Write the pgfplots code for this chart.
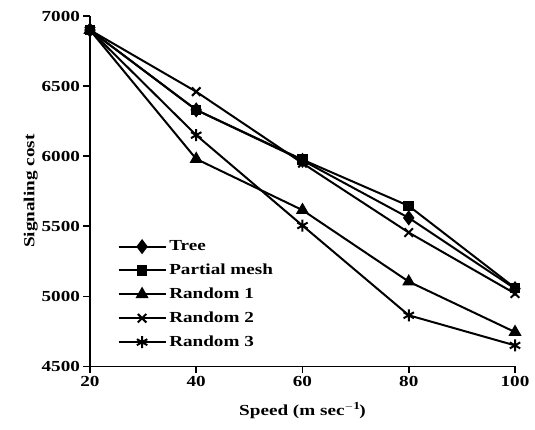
\documentclass[border=0pt]{standalone}
\usepackage{pgfplots}
\pgfplotsset{compat=1.18}
\usepackage{fontspec}
\setmainfont{Liberation Serif}[FakeStretch=1.25]
\begin{document}
\begin{tikzpicture}
\begin{axis}[
  scale only axis,
  width=319pt, height=263pt,
  xmin=20, xmax=100, ymin=4500, ymax=7000,
  axis lines=left,
  axis line style={line width=1.4pt, -},
  xtick={20,40,60,80,100},
  ytick={4500,5000,5500,6000,6500,7000},
  tick style={line width=1.2pt, black},
  major tick length=5pt,
  tick align=outside,
  /pgf/number format/assume math mode=true,
  /pgf/number format/1000 sep={},
  ticklabel style={font=\bfseries\fontsize{11.5}{12}\selectfont},
  xticklabel style={yshift=1pt},
  yticklabel style={xshift=1pt},
  xlabel={\bfseries Speed (m sec$^{\mathbf{-1}}$)},
  ylabel={\bfseries Signaling cost},
  label style={font=\bfseries\fontsize{11.5}{12}\selectfont},
  ylabel style={yshift=-4pt},
  xlabel style={yshift=-5pt},
  legend style={draw=none, fill=none, at={(0.055,0.375)}, anchor=north west,
    font=\bfseries\fontsize{11.5}{12}\selectfont, row sep=4.5pt,
    /tikz/every even column/.append style={column sep=2pt}},
  legend cell align=left,
  legend image code/.code={\draw[mark repeat=2,mark phase=2] plot coordinates {(0cm,0cm)(0.62cm,0cm)(1.24cm,0cm)};},
  clip=false,
]
\addplot[black, line width=1.5pt, mark=diamond*, mark size=4.5pt, mark options={fill=black, solid}] coordinates {(20,6900) (40,6330) (60,5970) (80,5560) (100,5055)};
\addlegendentry{Tree}
\addplot[black, line width=1.5pt, mark=square*, mark size=3.2pt, mark options={fill=black, solid}] coordinates {(20,6900) (40,6330) (60,5975) (80,5645) (100,5060)};
\addlegendentry{Partial mesh}
\addplot[black, line width=1.5pt, mark=triangle*, mark size=4.2pt, mark options={fill=black, solid}] coordinates {(20,6900) (40,5980) (60,5615) (80,5105) (100,4745)};
\addlegendentry{Random 1}
\addplot[black, line width=1.5pt, mark=x, mark size=4.5pt, mark options={solid}] coordinates {(20,6900) (40,6460) (60,5950) (80,5455) (100,5020)};
\addlegendentry{Random 2}
\addplot[black, line width=1.5pt, mark=asterisk, mark size=4.5pt, mark options={solid}] coordinates {(20,6900) (40,6150) (60,5505) (80,4865) (100,4650)};
\addlegendentry{Random 3}
\end{axis}
\path (current axis.south west) ++(-67.5pt,-47pt) coordinate (bl);
\path (current axis.north east) ++(15pt,12pt) coordinate (tr);
\path (bl) rectangle (tr);
\end{tikzpicture}
\end{document}
